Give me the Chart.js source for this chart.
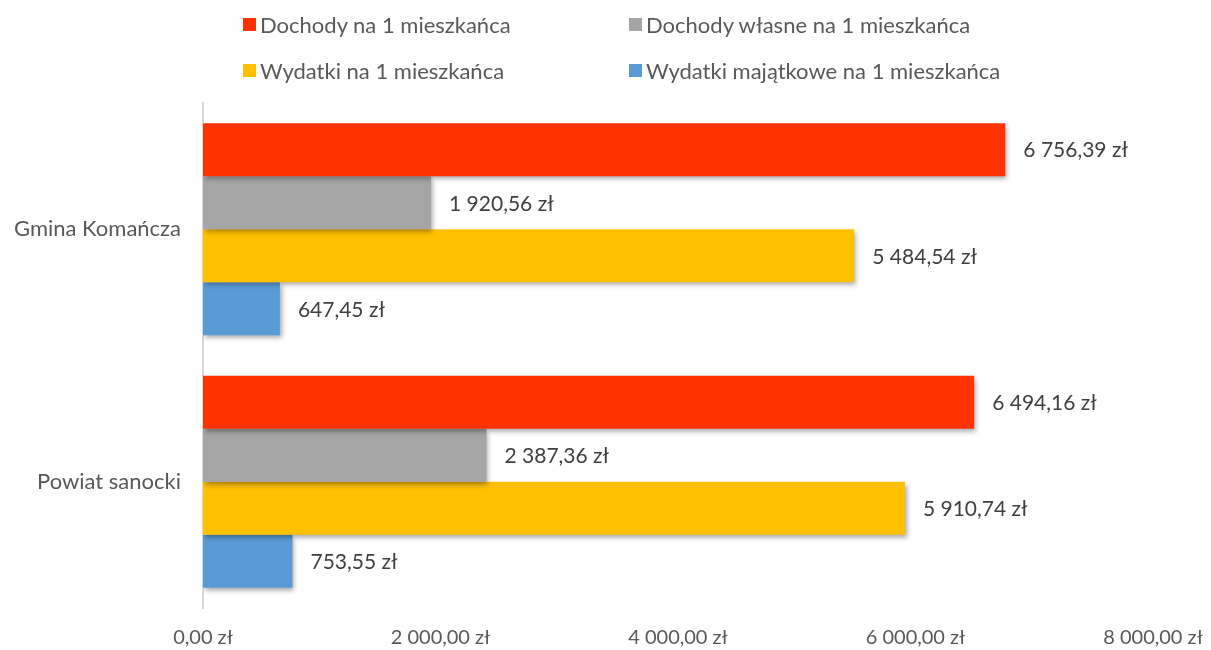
<!DOCTYPE html>
<html lang="pl">
<head>
  <meta charset="UTF-8" />
  <title>Dochody i wydatki na 1 mieszkańca</title>
  <script src="https://cdn.jsdelivr.net/npm/chart.js"></script>
  <style>
    html, body {
      margin: 0;
      padding: 0;
      background: #fff;
      font-family: 'Lato', sans-serif;
    }
    .wrap {
      position: relative;
      width: 1211px;
      height: 650px;
    }
    .legend {
      position: absolute;
      left: 243px;
      top: 1px;
      display: grid;
      grid-template-columns: 386px auto;
      grid-auto-rows: 46px;
      color: #595959;
      font-size: 22px;
    }
    .legend-item {
      display: flex;
      align-items: center;
      white-space: nowrap;
    }
    .legend-box {
      width: 13px;
      height: 13px;
      margin-right: 4px;
    }
  </style>
</head>
<body>
  <div class="wrap">
    <canvas id="chart" width="1211" height="650"></canvas>
    <div class="legend" id="legend"></div>
  </div>

  <script>
    // categories and series
    const categories = ['Gmina Komańcza', 'Powiat sanocki'];
    const dochody = [6756.39, 6494.16];
    const dochodyWlasne = [1920.56, 2387.36];
    const wydatki = [5484.54, 5910.74];
    const wydatkiMajatkowe = [647.45, 753.55];
    const seriesNames = ['Dochody na 1 mieszkańca', 'Dochody własne na 1 mieszkańca', 'Wydatki na 1 mieszkańca', 'Wydatki majątkowe na 1 mieszkańca'];
    const seriesColors = ['#ff3300', '#a5a5a5', '#ffc000', '#5b9bd5'];
    const xTicks = [0, 2000, 4000, 6000, 8000];

    // "6 756,39 zł" style formatting
    function zl(v) {
      const parts = v.toFixed(2).split('.');
      const intPart = parts[0].replace(/\B(?=(\d{3})+(?!\d))/g, ' ');
      return intPart + ',' + parts[1] + ' zł';
    }

    const shadowPlugin = {
      id: 'barShadow',
      beforeDatasetsDraw(chart) {
        const ctx = chart.ctx;
        ctx.save();
        ctx.shadowColor = 'rgba(0,0,0,0.35)';
        ctx.shadowBlur = 5;
        ctx.shadowOffsetX = 2;
        ctx.shadowOffsetY = 3;
      },
      afterDatasetsDraw(chart) {
        chart.ctx.restore();
      }
    };

    const valueLabels = {
      id: 'valueLabels',
      afterDraw(chart) {
        const ctx = chart.ctx;
        ctx.save();
        ctx.font = '21px Lato';
        ctx.fillStyle = '#404040';
        ctx.textBaseline = 'middle';
        ctx.textAlign = 'left';
        chart.data.datasets.forEach((ds, i) => {
          const meta = chart.getDatasetMeta(i);
          meta.data.forEach((bar, j) => {
            ctx.fillText(zl(ds.data[j]), bar.x + 18, bar.y + 1);
          });
        });
        ctx.restore();
      }
    };

    const seriesData = [dochody, dochodyWlasne, wydatki, wydatkiMajatkowe];

    new Chart(document.getElementById('chart'), {
      type: 'bar',
      data: {
        labels: categories,
        datasets: seriesData.map((d, i) => ({
          label: seriesNames[i],
          data: d,
          backgroundColor: seriesColors[i],
          barPercentage: 1,
          categoryPercentage: 0.84
        }))
      },
      options: {
        indexAxis: 'y',
        responsive: false,
        animation: false,
        layout: { padding: { top: 103, right: 58, bottom: 0, left: 0 } },
        plugins: {
          legend: { display: false },
          tooltip: { enabled: false }
        },
        scales: {
          x: {
            min: 0,
            max: 8000,
            afterBuildTicks(scale) {
              scale.ticks = xTicks.map(v => ({ value: v }));
            },
            afterFit(scale) {
              scale.height = 42;
              scale.paddingLeft = 0;
              scale.paddingRight = 0;
            },
            grid: { display: false, drawTicks: false },
            border: { display: false },
            ticks: {
              padding: 18,
              color: '#595959',
              font: { family: 'Lato', size: 20 },
              callback: v => zl(v)
            }
          },
          y: {
            afterFit(scale) { scale.width = 203; },
            grid: { display: false, drawTicks: false },
            border: { display: true, color: '#d9d9d9', width: 2 },
            ticks: {
              padding: 22,
              color: '#595959',
              font: { family: 'Lato', size: 22 }
            }
          }
        }
      },
      plugins: [shadowPlugin, valueLabels]
    });

    // legend, two columns like the original
    const legend = document.getElementById('legend');
    seriesNames.forEach((name, i) => {
      const item = document.createElement('div');
      item.className = 'legend-item';
      const box = document.createElement('span');
      box.className = 'legend-box';
      box.style.background = seriesColors[i];
      const txt = document.createElement('span');
      txt.textContent = name;
      item.appendChild(box);
      item.appendChild(txt);
      legend.appendChild(item);
    });
  </script>
</body>
</html>
